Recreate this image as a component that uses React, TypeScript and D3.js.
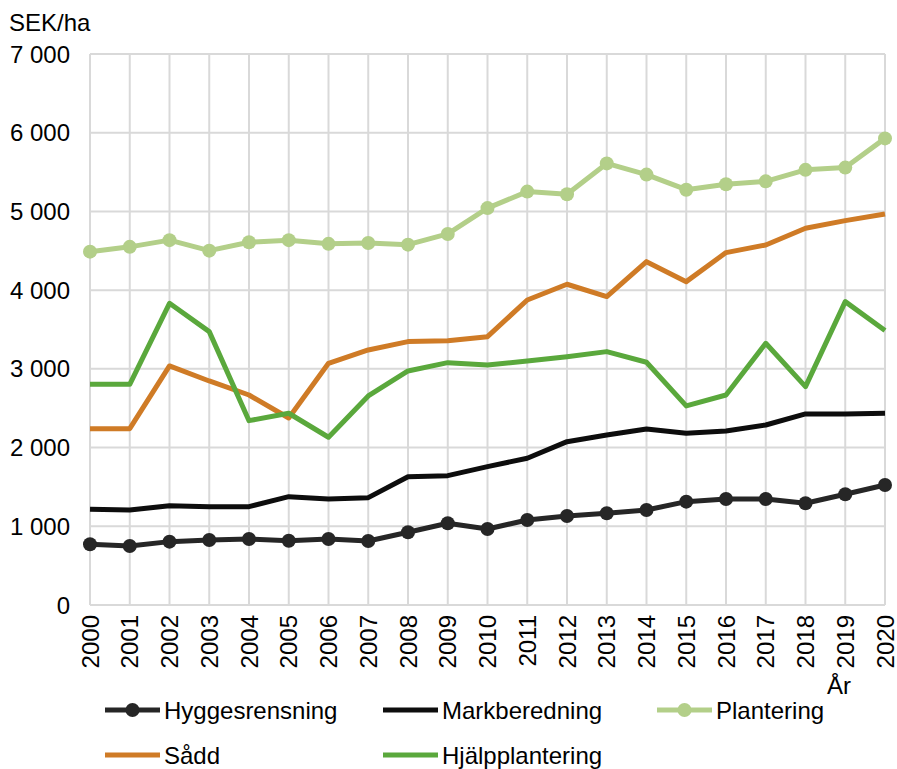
import * as d3 from 'd3';
import { useRef, useEffect } from 'react';

const years = d3.range(2000, 2021);
const yTicks = [0, 1000, 2000, 3000, 4000, 5000, 6000, 7000];

const hyggesrensning = [771, 750, 805, 826, 839, 817, 839, 813, 924, 1038, 966, 1080, 1131, 1165, 1207, 1313, 1347, 1347, 1292, 1407, 1525];
const markberedning = [1216, 1207, 1262, 1249, 1249, 1376, 1347, 1364, 1630, 1643, 1758, 1864, 2075, 2160, 2236, 2181, 2211, 2287, 2427, 2427, 2436];
const plantering = [4489, 4550, 4635, 4502, 4609, 4635, 4588, 4598, 4578, 4714, 5042, 5252, 5218, 5610, 5468, 5276, 5346, 5382, 5528, 5557, 5928];
const sadd = [2240, 2240, 3037, 2846, 2668, 2376, 3071, 3240, 3346, 3358, 3409, 3875, 4075, 3918, 4362, 4108, 4477, 4574, 4786, 4883, 4968];
const hjalpplantering = [2804, 2804, 3833, 3473, 2342, 2436, 2131, 2656, 2973, 3079, 3050, 3100, 3155, 3219, 3084, 2529, 2668, 3325, 2774, 3854, 3486];

const series = [
    { name: 'Hyggesrensning', values: hyggesrensning, color: '#262626', marker: true },
    { name: 'Markberedning', values: markberedning, color: '#0d0d0d', marker: false },
    { name: 'Plantering', values: plantering, color: '#b3cf89', marker: true },
    { name: 'Sådd', values: sadd, color: '#cf7b26', marker: false },
    { name: 'Hjälpplantering', values: hjalpplantering, color: '#5aa83c', marker: false },
];

export default function App() {
    const ref = useRef<SVGSVGElement>(null);

    useEffect(() => {
        const width = 897;
        const height = 769;
        const margin = { top: 54, right: 12, bottom: 164, left: 90 };
        const font = 'Liberation Sans, Arial, sans-serif';
        const fontSize = '24px';

        const svg = d3.select(ref.current)
            .attr('width', width)
            .attr('height', height);
        svg.selectAll('*').remove();

        const x = d3.scaleLinear()
            .domain([2000, 2020])
            .range([margin.left, width - margin.right]);

        const y = d3.scaleLinear()
            .domain([0, 7000])
            .range([height - margin.bottom, margin.top]);

        const fmt = d3.formatLocale({ decimal: ',', thousands: ' ', grouping: [3], currency: ['', ''] }).format(',');

        // gridlines
        const grid = svg.append('g').attr('stroke', '#d9d9d9').attr('stroke-width', 2);
        grid.selectAll('.hgrid')
            .data(yTicks)
            .enter().append('line')
            .attr('x1', x(2000)).attr('x2', x(2020))
            .attr('y1', d => y(d)).attr('y2', d => y(d));
        grid.selectAll('.vgrid')
            .data(years)
            .enter().append('line')
            .attr('x1', d => x(d)).attr('x2', d => x(d))
            .attr('y1', y(0)).attr('y2', y(7000));

        // y labels
        svg.append('g')
            .selectAll('text')
            .data(yTicks)
            .enter().append('text')
            .attr('x', 70)
            .attr('y', d => y(d))
            .attr('dy', '0.36em')
            .attr('text-anchor', 'end')
            .style('font-family', font)
            .style('font-size', fontSize)
            .style('fill', '#000')
            .text(d => fmt(d));

        svg.append('text')
            .attr('x', 9)
            .attr('y', 31)
            .style('font-family', font)
            .style('font-size', fontSize)
            .style('fill', '#000')
            .text('SEK/ha');

        // x labels
        svg.append('g')
            .selectAll('text')
            .data(years)
            .enter().append('text')
            .attr('transform', d => `translate(${x(d)}, ${y(0) + 10}) rotate(-90)`)
            .attr('dy', '0.36em')
            .attr('text-anchor', 'end')
            .style('font-family', font)
            .style('font-size', fontSize)
            .style('fill', '#000')
            .text(d => d);

        svg.append('text')
            .attr('x', 839)
            .attr('y', 694)
            .attr('text-anchor', 'middle')
            .style('font-family', font)
            .style('font-size', fontSize)
            .style('fill', '#000')
            .text('År');

        // lines
        const line = d3.line<number>()
            .x((d, i) => x(years[i]))
            .y(d => y(d));

        series.forEach(s => {
            svg.append('path')
                .datum(s.values)
                .attr('fill', 'none')
                .attr('stroke', s.color)
                .attr('stroke-width', 5)
                .attr('stroke-linejoin', 'round')
                .attr('d', line);

            if (s.marker) {
                svg.append('g')
                    .selectAll('circle')
                    .data(s.values)
                    .enter().append('circle')
                    .attr('cx', (d, i) => x(years[i]))
                    .attr('cy', d => y(d))
                    .attr('r', 7)
                    .attr('fill', s.color);
            }
        });

        // legend
        const legendPos = [
            { lx: 105, ly: 710 },
            { lx: 383, ly: 710 },
            { lx: 657, ly: 710 },
            { lx: 105, ly: 755 },
            { lx: 383, ly: 755 },
        ];
        const legend = svg.append('g');
        series.forEach((s, i) => {
            const p = legendPos[i];
            const g = legend.append('g').attr('transform', `translate(${p.lx}, ${p.ly})`);
            g.append('line')
                .attr('x1', 0).attr('x2', 55)
                .attr('y1', 0).attr('y2', 0)
                .attr('stroke', s.color)
                .attr('stroke-width', 5);
            if (s.marker) {
                g.append('circle').attr('cx', 27.5).attr('cy', 0).attr('r', 7).attr('fill', s.color);
            }
            g.append('text')
                .attr('x', 59)
                .attr('y', 0)
                .attr('dy', '0.36em')
                .style('font-family', font)
                .style('font-size', fontSize)
                .style('fill', '#000')
                .text(s.name);
        });
    }, []);

    return (
        <svg ref={ref} style={{ position: 'absolute', left: 0, top: 0 }}></svg>
    );
}
